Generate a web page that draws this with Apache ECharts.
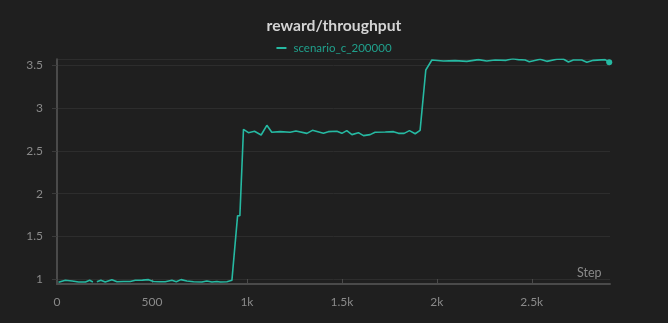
<!DOCTYPE html>
<html>
<head>
<meta charset="utf-8">
<script src="https://cdn.jsdelivr.net/npm/echarts@6/dist/echarts.min.js"></script>
<style>
html,body{margin:0;padding:0;background:#1f1f1f;}
#c{width:668px;height:323px;}
</style>
</head>
<body>
<div id="c"></div>
<script>
const titleText = 'reward/throughput';
const seriesName = 'scenario_c_200000';
const xName = 'Step';

const steps = [
  8, 44, 80, 114, 150, 172, 189, 200, 210, 231, 254, 289, 316, 350, 386, 412, 450, 482, 508, 540,
  570, 605, 628, 653, 684, 719, 763, 789, 816, 842, 860, 895, 921,
  951, 963,
  982, 1008, 1040, 1075, 1105, 1131, 1175, 1228, 1258, 1316, 1345, 1403, 1429, 1474, 1500, 1526,
  1553, 1587, 1614, 1649, 1675, 1728, 1772, 1798, 1828, 1856, 1886, 1912, 1921,
  1942, 1952,
  1974, 2035, 2096, 2158, 2219, 2263, 2307, 2365, 2400, 2430, 2465, 2487, 2544, 2579, 2632, 2666,
  2693, 2719, 2763, 2790, 2824, 2886, 2908
];
const values = [
  0.965, 0.988, 0.98, 0.968, 0.968, 0.988, 0.968, null, 0.97, 0.99, 0.968, 0.996, 0.972, 0.975, 0.974, 0.988, 0.99, 0.996, 0.975, 0.972,
  0.972, 0.988, 0.972, 0.996, 0.98, 0.972, 0.968, 0.98, 0.968, 0.975, 0.968, 0.972, 0.988,
  1.743, 1.743,
  2.752, 2.713, 2.729, 2.686, 2.799, 2.717, 2.725, 2.717, 2.733, 2.705, 2.74, 2.705, 2.725, 2.729, 2.705, 2.737,
  2.69, 2.713, 2.678, 2.69, 2.717, 2.721, 2.725, 2.705, 2.705, 2.737, 2.70, 2.74, 2.74,
  3.445, 3.445,
  3.562, 3.55, 3.554, 3.546, 3.566, 3.55, 3.562, 3.558, 3.577, 3.566, 3.562, 3.542, 3.57, 3.546, 3.57, 3.573,
  3.538, 3.562, 3.562, 3.535, 3.558, 3.566, 3.535
];
const xMin = 0, xMax = 2912;
const yMin = 0.945, yMax = 3.57;

const data = steps.map((s, i) => [s, values[i]]);
const lineColor = '#26b9a2';
const font = 'Lato';

const chart = echarts.init(document.getElementById('c'), null, {renderer: 'canvas'});
chart.setOption({
  backgroundColor: '#1f1f1f',
  animation: false,
  textStyle: {fontFamily: font},
  title: {
    text: titleText,
    left: 'center',
    top: 13,
    textStyle: {color: '#d4d4d4', fontSize: 15.7, fontWeight: 'bold', fontFamily: font}
  },
  legend: {
    top: 37,
    left: 'center',
    icon: 'rect',
    itemWidth: 10,
    itemHeight: 2,
    textStyle: {color: '#20a08c', fontSize: 11.5, fontFamily: font, padding: [0, 0, 0, 2]},
    data: [seriesName]
  },
  grid: {left: 57, right: 58, top: 59.3, bottom: 39, containLabel: false},
  xAxis: {
    type: 'value',
    min: xMin,
    max: xMax,
    interval: 500,
    name: xName,
    nameLocation: 'end',
    nameGap: -33,
    nameTextStyle: {color: '#8a8a8a', fontSize: 12.5, verticalAlign: 'bottom', padding: [0, 0, 5, 0], fontFamily: font},
    axisLine: {show: true, lineStyle: {color: '#4a4a4a', width: 2}},
    axisTick: {show: true, inside: true, length: 5, lineStyle: {color: '#4a4a4a'}},
    axisLabel: {
      color: '#8a8a8a', fontSize: 12, margin: 12, showMaxLabel: false, fontFamily: font,
      formatter: v => v === 0 ? '0' : (v >= 1000 ? (v / 1000) + 'k' : String(v))
    },
    splitLine: {show: false}
  },
  yAxis: {
    type: 'value',
    min: yMin,
    max: yMax,
    axisLine: {show: true, lineStyle: {color: '#4a4a4a', width: 2}},
    axisTick: {show: true, length: 5, lineStyle: {color: '#3a3a3a'}},
    axisLabel: {color: '#8a8a8a', fontSize: 12, margin: 14, showMinLabel: false, showMaxLabel: false, fontFamily: font},
    splitLine: {show: true, lineStyle: {color: '#2d2d2d', width: 1}}
  },
  series: [{
    name: seriesName,
    type: 'line',
    data: data,
    showSymbol: false,
    connectNulls: false,
    lineStyle: {color: lineColor, width: 1.6},
    itemStyle: {color: lineColor},
    markPoint: {
      symbol: 'circle',
      symbolSize: 6,
      label: {show: false},
      itemStyle: {color: lineColor},
      data: [{coord: data[data.length - 1]}]
    }
  }]
});
</script>
</body>
</html>
